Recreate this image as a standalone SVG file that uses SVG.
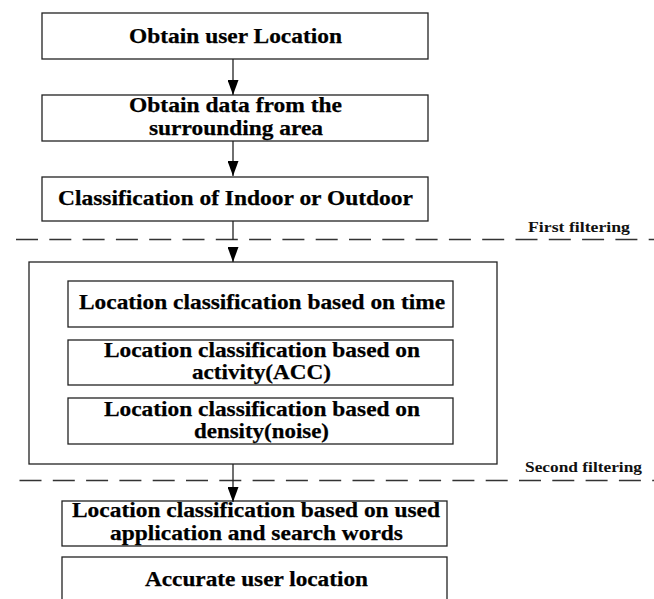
<svg xmlns="http://www.w3.org/2000/svg" width="654" height="599" viewBox="0 0 654 599">
  <style>
    .box { fill: #ffffff; stroke: #222222; stroke-width: 1.3; }
    .t { font-family: "Liberation Serif", "Times New Roman", serif; font-weight: bold; font-size: 21px; fill: #000000; stroke: #000000; stroke-width: 0.25; }
    .s { font-family: "Liberation Serif", "Times New Roman", serif; font-weight: bold; font-size: 15px; fill: #111111; }
    .ln { stroke: #222222; stroke-width: 1.3; fill: none; }
    .dash { stroke: #333333; stroke-width: 1.3; stroke-dasharray: 22 11.3; fill: none; }
  </style>
  <defs>
    <marker id="ah" markerUnits="userSpaceOnUse" markerWidth="15" markerHeight="11" viewBox="0 0 15 11" refX="15" refY="5.5" orient="auto">
      <path d="M0,0 L15,5.5 L0,11 z" fill="#000000"/>
    </marker>
  </defs>
  <rect width="654" height="599" fill="#ffffff"/>

  <g id="separators">
    <line class="dash" x1="16" y1="239.5" x2="654" y2="239.5"/>
    <line class="dash" x1="19.5" y1="480.5" x2="654" y2="480.5"/>
    <text class="s" x="528" y="232" textLength="102" lengthAdjust="spacingAndGlyphs">First filtering</text>
    <text class="s" x="525" y="472" textLength="117" lengthAdjust="spacingAndGlyphs">Second filtering</text>
  </g>

  <g id="n1">
    <rect class="box" x="42" y="13" width="386" height="46"/>
    <text class="t" x="129" y="43" textLength="213" lengthAdjust="spacingAndGlyphs">Obtain user Location</text>
  </g>
  <g id="n2">
    <rect class="box" x="42" y="95" width="386" height="46"/>
    <text class="t" x="129" y="112" textLength="213" lengthAdjust="spacingAndGlyphs">Obtain data from the</text>
    <text class="t" x="149" y="135" textLength="174" lengthAdjust="spacingAndGlyphs">surrounding area</text>
  </g>
  <g id="n3">
    <rect class="box" x="42" y="177" width="386" height="44"/>
    <text class="t" x="58" y="205" textLength="355" lengthAdjust="spacingAndGlyphs">Classification of Indoor or Outdoor</text>
  </g>

  <g id="group-filter">
    <rect class="box" x="29" y="262" width="468" height="202"/>
  </g>
  <g id="n4">
    <rect class="box" x="68" y="281" width="385" height="46"/>
    <text class="t" x="79" y="309" textLength="366" lengthAdjust="spacingAndGlyphs">Location classification based on time</text>
  </g>
  <g id="n5">
    <rect class="box" x="68" y="340" width="385" height="45"/>
    <text class="t" x="104" y="357" textLength="316" lengthAdjust="spacingAndGlyphs">Location classification based on</text>
    <text class="t" x="192" y="379" textLength="139" lengthAdjust="spacingAndGlyphs">activity(ACC)</text>
  </g>
  <g id="n6">
    <rect class="box" x="68" y="398" width="385" height="46"/>
    <text class="t" x="104" y="416" textLength="316" lengthAdjust="spacingAndGlyphs">Location classification based on</text>
    <text class="t" x="194" y="438" textLength="135" lengthAdjust="spacingAndGlyphs">density(noise)</text>
  </g>

  <g id="n7">
    <rect class="box" x="62" y="501" width="385" height="45"/>
    <text class="t" x="72" y="517" textLength="368" lengthAdjust="spacingAndGlyphs">Location classification based on used</text>
    <text class="t" x="110" y="540" textLength="293" lengthAdjust="spacingAndGlyphs">application and search words</text>
  </g>
  <g id="n8">
    <rect class="box" x="62" y="557" width="385" height="48"/>
    <text class="t" x="145" y="586" textLength="223" lengthAdjust="spacingAndGlyphs">Accurate user location</text>
  </g>

  <g id="connectors">
    <line class="ln" x1="233" y1="59" x2="233" y2="95" marker-end="url(#ah)"/>
    <line class="ln" x1="233" y1="141" x2="233" y2="176" marker-end="url(#ah)"/>
    <line class="ln" x1="233" y1="221" x2="233" y2="240"/>
    <line class="ln" x1="233" y1="248" x2="233" y2="262" marker-end="url(#ah)"/>
    <line class="ln" x1="233" y1="464" x2="233" y2="502" marker-end="url(#ah)"/>
  </g>
</svg>
